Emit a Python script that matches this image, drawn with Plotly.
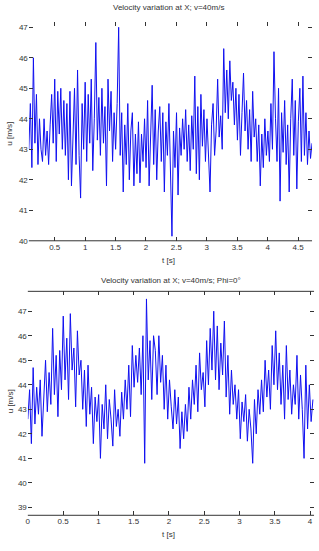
import numpy as np
import plotly.graph_objects as go

# ---- data ----
u_top = [
    43.0, 44.5, 42.4, 46.0, 43.2, 44.8, 42.5, 44.0, 43.0,
    42.6, 44.0, 42.8, 43.6, 42.5, 43.8,
    44.8, 43.2, 45.3, 42.6, 44.9, 43.5, 45.0, 43.0, 44.6, 42.8,
    44.5, 42.0, 44.9, 41.8, 43.8, 45.0, 42.5,
    45.6, 42.8, 41.4, 44.5, 43.0, 45.2,
    42.6, 44.8, 43.2, 45.3, 42.3, 44.0, 46.5, 43.3, 44.7, 42.8,
    45.0, 43.2, 44.4, 41.8, 45.3, 43.6, 44.9, 42.6, 44.2, 43.0,
    44.5, 47.0, 42.8, 44.2,
    41.6, 43.8, 42.5, 44.5, 42.0, 43.6, 44.2, 41.8, 43.5,
    42.2, 43.9, 41.9, 43.5, 42.6, 44.0,
    42.4, 44.6, 41.8, 43.8, 45.1, 42.5, 44.3, 42.0, 43.6, 44.4,
    42.6, 44.2, 41.6, 43.9, 42.8, 44.5, 42.2,
    40.15, 43.6,
    42.4, 44.2, 41.5, 43.7, 42.8, 44.0, 43.0, 44.3, 42.6, 43.8, 42.3, 44.1,
    43.0, 45.4, 42.2, 44.4, 42.0, 44.8,
    43.1, 44.3, 42.6, 44.0, 42.9, 41.6, 43.8, 44.5, 42.8, 43.6,
    45.3, 43.4, 44.1, 43.0,
    46.3, 44.2, 45.6, 44.0, 45.9, 44.6, 45.2, 43.8, 45.0,
    43.3, 44.8, 42.8, 44.2, 45.5, 43.6, 44.6, 43.0, 44.3, 42.6, 44.9, 43.4, 44.0,
    42.6, 43.8, 41.8, 43.5, 42.4, 44.0, 42.8,
    43.6, 42.6, 44.5, 43.0, 46.2, 44.0,
    42.6, 45.0, 41.3, 44.2, 42.9, 44.6, 42.5, 43.8, 41.6, 44.0,
    45.3, 42.8, 44.6, 41.7, 43.9, 45.0, 42.6,
    45.4, 42.8, 44.2, 42.5, 43.6, 42.7, 43.2,
]
t_top_start, t_top_end = 0.075, 4.73

u_bot = [
    42.6, 43.8, 41.6, 44.7, 42.4, 43.9,
    42.8, 44.2, 41.9, 43.7, 45.0, 42.9, 44.5, 43.2, 46.3, 43.6, 45.2, 42.7,
    45.4, 43.8, 46.8, 44.2, 45.9, 43.4, 46.9, 44.6, 45.5, 43.1, 46.2, 44.4,
    45.0, 43.0, 44.6, 42.3, 44.8, 42.8, 43.9, 41.6, 43.5, 42.5,
    43.6, 41.0, 43.2, 42.2, 44.0, 41.8, 43.4, 42.6, 41.5, 43.8, 42.3, 43.0, 41.9, 43.7, 42.6, 44.2,
    43.0, 44.8, 42.7, 45.6, 43.9, 45.2, 44.1, 45.5, 43.6, 46.0, 40.8, 47.5, 44.2, 45.8, 43.4, 46.0,
    45.4, 43.6, 46.0, 44.1, 45.2, 43.0, 44.8, 42.6, 44.2, 43.1, 42.2, 43.8,
    42.4, 43.5, 41.4, 42.9, 41.8, 43.2, 42.1, 43.9, 42.6, 44.2,
    43.2, 44.8, 42.9, 45.3, 43.8, 44.5, 43.1, 45.8, 44.0, 46.3,
    44.6, 47.0, 44.2, 46.4, 43.8, 45.7, 44.4, 46.6,
    43.5, 45.2, 42.8, 44.6, 43.2, 44.0, 42.6, 43.8, 41.8, 43.3,
    42.5, 43.6, 41.7, 43.0, 42.2, 40.8, 43.4, 42.0, 43.8, 42.8,
    44.2, 42.9, 45.0, 43.5, 44.6, 43.0, 45.6, 44.0, 46.2, 43.8, 45.3, 43.2, 44.8, 42.6, 45.6, 43.4,
    44.6, 42.8, 44.0, 43.2, 45.2, 42.6, 44.4, 43.0, 41.0, 44.8, 42.2, 44.0, 42.5, 43.4,
]
t_bot_start, t_bot_end = 0.0, 4.04

xt_top = [0.5, 1, 1.5, 2, 2.5, 3, 3.5, 4, 4.5]
xt_top_lbl = ["0.5", "1", "1.5", "2", "2.5", "3", "3.5", "4", "4.5"]
yt_top = [40, 41, 42, 43, 44, 45, 46, 47]
xt_bot = [0, 0.5, 1, 1.5, 2, 2.5, 3, 3.5, 4]
xt_bot_lbl = ["0", "0.5", "1", "1.5", "2", "2.5", "3", "3.5", "4"]
yt_bot = [39, 40, 41, 42, 43, 44, 45, 46, 47]

title_top = "Velocity variation at X; v=40m/s"
title_bot = "Velocity variation at X; v=40m/s; Phi=0°"
xlabel = "t [s]"
ylabel = "u [m/s]"

t_top = np.linspace(t_top_start, t_top_end, len(u_top))
t_bot = np.linspace(t_bot_start, t_bot_end, len(u_bot))

W, H = 319, 551
def fx(px): return px / W
def fy(py): return 1 - py / H

fig = go.Figure()
fig.add_trace(go.Scatter(x=t_top, y=u_top, mode="lines",
                         line=dict(color="#1010f0", width=1), xaxis="x", yaxis="y"))
fig.add_trace(go.Scatter(x=t_bot, y=u_bot, mode="lines",
                         line=dict(color="#1010f0", width=1), xaxis="x2", yaxis="y2"))

font = dict(family="Liberation Sans, Arial, sans-serif", size=8, color="#333")
axcommon = dict(showgrid=False, zeroline=False, ticks="inside", ticklen=4,
                tickcolor="#333", tickfont=font, mirror="ticks", showline=False)

fig.update_layout(
    width=W, height=H, margin=dict(l=0, r=0, t=0, b=0),
    paper_bgcolor="white", plot_bgcolor="white", showlegend=False,
    xaxis=dict(domain=[fx(27), fx(312)], range=[t_top_start, t_top_end],
               tickvals=xt_top, ticktext=xt_top_lbl, anchor="y", **axcommon),
    yaxis=dict(domain=[fy(243), fy(22)], range=[40, 47.18],
               tickvals=yt_top, anchor="x", **axcommon),
    xaxis2=dict(domain=[fx(26), fx(314)], range=[0, 4.056],
                tickvals=xt_bot, ticktext=xt_bot_lbl, anchor="y2", **axcommon),
    yaxis2=dict(domain=[fy(520), fy(294)], range=[38.68, 47.81],
                tickvals=yt_bot, anchor="x2", **axcommon),
)

# visible box lines
line_style = dict(color="#333", width=1)
fig.add_shape(type="line", xref="paper", yref="paper",
              x0=fx(27), x1=fx(312), y0=fy(243), y1=fy(243), line=line_style)
fig.add_shape(type="line", xref="paper", yref="paper",
              x0=fx(26), x1=fx(314), y0=fy(520), y1=fy(520), line=line_style)
fig.add_shape(type="line", xref="paper", yref="paper",
              x0=fx(26), x1=fx(314), y0=fy(294), y1=fy(294), line=line_style)

tfont = dict(family="Liberation Sans, Arial, sans-serif", size=8, color="#333")
anns = [
    dict(x=fx(168), y=fy(8), text=title_top),
    dict(x=fx(170), y=fy(283), text=title_bot),
    dict(x=fx(168), y=fy(263), text=xlabel),
    dict(x=fx(168), y=fy(539), text=xlabel),
]
for a in anns:
    fig.add_annotation(xref="paper", yref="paper", showarrow=False,
                       xanchor="center", yanchor="middle", font=tfont, **a)
for yc in (135, 405):
    fig.add_annotation(xref="paper", yref="paper", x=fx(8), y=fy(yc), text=ylabel,
                       textangle=-90, showarrow=False, xanchor="center",
                       yanchor="middle", font=tfont)

fig.write_html("out.html")
